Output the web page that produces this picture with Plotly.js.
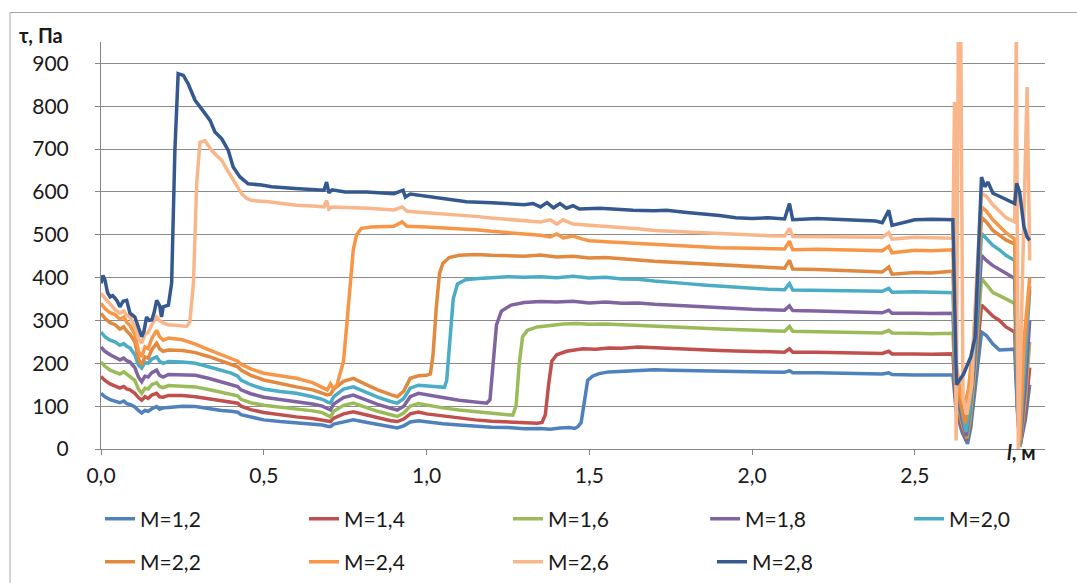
<!DOCTYPE html>
<html>
<head>
<meta charset="utf-8">
<script src="https://cdn.plot.ly/plotly-3.0.1.min.js"></script>
<style>
html,body{margin:0;padding:0;background:#fff;}
#chart{width:1077px;height:583px;}
</style>
</head>
<body>
<div id="chart"></div>
<script>
// ---- data ----
const seriesNames = ["M=1,2","M=1,4","M=1,6","M=1,8","M=2,0","M=2,2","M=2,4","M=2,6","M=2,8"];
const xTickVals = [0, 0.5, 1.0, 1.5, 2.0, 2.5];
const xTickText = ["0,0","0,5","1,0","1,5","2,0","2,5"];
const yTickVals = [0,100,200,300,400,500,600,700,800,900];

const xM12 = [0.000,0.012,0.028,0.043,0.058,0.070,0.079,0.089,0.104,0.115,0.125,0.135,0.145,0.156,0.171,0.180,0.191,0.207,0.25,0.29,0.33,0.37,0.40,0.42,0.43,0.46,0.50,0.55,0.60,0.65,0.68,0.695,0.705,0.715,0.745,0.775,0.81,0.85,0.89,0.91,0.93,0.95,0.975,1.0,1.05,1.10,1.15,1.20,1.25,1.30,1.35,1.38,1.41,1.44,1.455,1.465,1.475,1.485,1.495,1.51,1.53,1.56,1.60,1.65,1.70,1.75,1.80,1.85,1.90,1.95,2.00,2.05,2.10,2.115,2.125,2.20,2.30,2.40,2.42,2.43,2.50,2.55,2.60,2.617,2.627,2.645,2.662,2.672,2.688,2.705,2.72,2.74,2.76,2.78,2.807,2.815,2.823,2.84,2.853];
const yM12 = [130,122,115,112,108,112,106,104,98,90,84,90,88,94,99,93,96,97,100,99,94,90,88,86,80,74,68,64,61,58,56,53,52,58,64,68,63,57,51,49,54,63,66,63,59,56,53,51,50,47,48,46,49,50,48,52,62,110,160,170,176,180,182,183,185,184,183,183,181,181,180,179,179,183,178,178,176,175,178,174,173,172,173,173,90,40,12,50,160,273,265,245,231,232,233,90,5,70,150];

const xM14 = [0.000,0.012,0.028,0.043,0.058,0.070,0.079,0.089,0.104,0.115,0.125,0.135,0.145,0.156,0.171,0.180,0.191,0.207,0.25,0.29,0.33,0.37,0.40,0.42,0.43,0.46,0.50,0.55,0.60,0.65,0.68,0.695,0.705,0.715,0.745,0.775,0.81,0.85,0.89,0.91,0.93,0.95,0.975,1.0,1.05,1.10,1.15,1.20,1.25,1.30,1.34,1.355,1.365,1.375,1.385,1.40,1.43,1.48,1.52,1.56,1.60,1.65,1.70,1.75,1.80,1.85,1.90,1.95,2.00,2.05,2.10,2.115,2.125,2.20,2.30,2.40,2.42,2.43,2.50,2.55,2.617,2.627,2.645,2.66,2.67,2.685,2.705,2.72,2.74,2.76,2.78,2.807,2.815,2.823,2.84,2.853];
const yM14 = [169,160,152,147,142,146,140,138,130,120,114,122,118,126,130,122,121,125,125,122,117,112,110,107,100,92,85,79,75,71,68,65,64,72,82,87,80,72,66,64,70,82,86,82,77,72,68,65,63,61,60,62,80,150,205,220,228,234,233,236,235,238,236,234,233,232,230,229,228,227,226,234,226,226,224,223,228,222,222,221,222,100,50,20,60,170,336,325,310,300,285,273,100,5,90,190];

const xM16 = [0.000,0.012,0.028,0.043,0.058,0.070,0.079,0.089,0.104,0.115,0.125,0.135,0.145,0.156,0.171,0.180,0.191,0.207,0.25,0.29,0.33,0.37,0.40,0.42,0.43,0.46,0.50,0.55,0.60,0.65,0.68,0.695,0.705,0.715,0.745,0.775,0.81,0.85,0.89,0.91,0.93,0.95,0.975,1.0,1.05,1.10,1.15,1.20,1.24,1.265,1.275,1.285,1.295,1.31,1.34,1.38,1.42,1.46,1.50,1.55,1.60,1.65,1.70,1.75,1.80,1.85,1.90,1.95,2.00,2.05,2.10,2.115,2.125,2.20,2.30,2.40,2.42,2.43,2.50,2.55,2.617,2.627,2.645,2.66,2.67,2.685,2.705,2.72,2.74,2.76,2.78,2.807,2.815,2.823,2.84,2.853];
const yM16 = [203,193,184,180,175,180,174,170,160,140,130,142,140,150,155,146,143,148,147,145,139,132,128,124,116,108,102,98,94,89,85,80,75,88,102,107,98,88,80,76,84,100,106,102,96,91,87,84,80,79,100,200,262,277,285,289,292,293,291,292,290,289,288,286,284,282,280,278,277,276,275,286,275,274,273,271,277,271,270,269,270,120,60,25,70,190,398,385,365,358,350,340,120,5,120,250];

const xM18 = [0.000,0.012,0.028,0.043,0.058,0.070,0.079,0.089,0.104,0.115,0.125,0.135,0.145,0.156,0.171,0.180,0.191,0.207,0.25,0.29,0.33,0.37,0.40,0.42,0.43,0.46,0.50,0.55,0.60,0.65,0.68,0.695,0.705,0.715,0.745,0.775,0.81,0.85,0.89,0.91,0.93,0.95,0.975,1.0,1.05,1.10,1.15,1.185,1.195,1.205,1.215,1.23,1.26,1.30,1.35,1.40,1.45,1.50,1.55,1.60,1.65,1.70,1.75,1.80,1.85,1.90,1.95,2.00,2.05,2.10,2.115,2.125,2.20,2.30,2.40,2.42,2.43,2.50,2.55,2.617,2.627,2.645,2.658,2.668,2.683,2.705,2.72,2.74,2.76,2.78,2.807,2.815,2.823,2.84,2.853];
const yM18 = [238,228,220,215,208,212,206,203,190,168,157,170,168,178,184,172,168,174,174,172,165,157,152,146,138,129,121,116,111,105,100,95,91,105,120,126,116,104,95,91,100,122,130,126,120,114,110,107,115,200,290,322,336,342,344,343,345,341,343,340,341,338,336,333,332,330,328,326,325,324,334,323,322,320,318,324,317,317,316,317,140,70,30,80,200,452,440,428,420,410,398,130,10,150,300];

const xM20 = [0.000,0.012,0.028,0.043,0.058,0.070,0.079,0.089,0.104,0.115,0.125,0.135,0.145,0.156,0.171,0.180,0.191,0.207,0.25,0.29,0.33,0.37,0.40,0.42,0.43,0.46,0.50,0.55,0.60,0.65,0.68,0.695,0.705,0.715,0.745,0.775,0.81,0.85,0.89,0.91,0.93,0.95,0.975,1.0,1.03,1.055,1.062,1.072,1.082,1.095,1.12,1.16,1.20,1.25,1.30,1.35,1.40,1.45,1.50,1.55,1.60,1.65,1.70,1.75,1.80,1.85,1.90,1.95,2.00,2.05,2.10,2.115,2.125,2.20,2.30,2.40,2.42,2.43,2.50,2.55,2.617,2.627,2.645,2.657,2.668,2.682,2.705,2.72,2.74,2.76,2.78,2.807,2.815,2.822,2.838,2.853];
const yM20 = [273,262,254,250,242,246,240,236,220,196,189,202,200,210,215,205,200,204,203,200,192,183,177,170,161,150,140,134,130,122,116,110,107,122,140,145,134,121,111,107,118,142,149,147,145,144,160,260,350,385,395,398,400,402,401,402,400,403,399,401,397,396,392,390,386,383,380,377,375,373,372,386,371,370,369,368,375,366,367,366,365,160,90,40,90,220,503,490,475,465,452,440,150,10,200,370];

const xM22 = [0.000,0.012,0.028,0.043,0.058,0.070,0.079,0.089,0.104,0.115,0.125,0.135,0.145,0.156,0.171,0.180,0.191,0.207,0.25,0.29,0.33,0.37,0.40,0.42,0.43,0.46,0.50,0.55,0.60,0.65,0.68,0.695,0.705,0.715,0.745,0.775,0.81,0.85,0.89,0.91,0.93,0.95,0.975,1.0,1.012,1.02,1.03,1.04,1.05,1.07,1.10,1.15,1.20,1.25,1.30,1.35,1.40,1.45,1.50,1.55,1.60,1.65,1.70,1.75,1.80,1.85,1.90,1.95,2.00,2.05,2.10,2.115,2.125,2.20,2.30,2.40,2.42,2.43,2.50,2.55,2.617,2.627,2.64,2.655,2.667,2.68,2.705,2.72,2.74,2.76,2.78,2.807,2.815,2.822,2.835,2.853];
const yM22 = [317,305,295,290,280,285,275,268,250,210,196,215,212,232,247,234,228,231,230,225,216,205,198,192,184,172,161,152,145,138,130,126,128,140,158,165,152,138,127,122,135,165,171,172,175,220,330,410,433,447,452,454,452,452,450,453,448,450,446,447,443,441,438,436,433,430,428,426,425,423,422,440,420,419,416,413,425,408,412,411,415,180,110,60,110,230,541,530,510,500,488,478,180,15,230,380];

const xM24 = [0.000,0.012,0.028,0.043,0.058,0.070,0.079,0.089,0.104,0.115,0.125,0.135,0.145,0.156,0.171,0.180,0.191,0.207,0.25,0.29,0.33,0.37,0.40,0.42,0.43,0.46,0.50,0.55,0.60,0.65,0.68,0.695,0.705,0.715,0.725,0.735,0.745,0.755,0.765,0.775,0.785,0.80,0.83,0.87,0.90,0.925,0.94,1.00,1.05,1.10,1.15,1.20,1.25,1.30,1.35,1.38,1.40,1.42,1.45,1.48,1.50,1.55,1.60,1.65,1.70,1.75,1.80,1.85,1.90,1.95,2.00,2.05,2.10,2.115,2.125,2.20,2.30,2.40,2.42,2.43,2.50,2.55,2.617,2.627,2.64,2.652,2.665,2.68,2.705,2.72,2.74,2.76,2.78,2.807,2.815,2.822,2.835,2.853];
const yM24 = [340,328,318,314,303,308,296,288,268,228,215,238,234,258,277,262,254,259,255,245,232,220,212,205,198,187,177,170,165,155,143,138,152,140,150,175,205,290,390,465,500,515,518,520,520,530,520,518,516,515,512,508,505,501,499,495,502,493,497,490,486,484,482,480,477,475,472,471,470,469,469,467,467,485,465,466,465,463,473,458,464,463,465,200,130,100,140,250,565,555,535,520,505,490,200,20,250,400];

const xM26 = [0.000,0.012,0.028,0.043,0.058,0.070,0.079,0.089,0.104,0.115,0.125,0.135,0.145,0.156,0.171,0.180,0.191,0.207,0.23,0.25,0.263,0.273,0.284,0.294,0.304,0.319,0.340,0.355,0.371,0.385,0.401,0.415,0.432,0.447,0.463,0.514,0.55,0.60,0.65,0.685,0.693,0.70,0.71,0.75,0.82,0.90,0.925,0.94,1.00,1.05,1.10,1.15,1.20,1.25,1.30,1.35,1.38,1.40,1.42,1.45,1.50,1.55,1.60,1.65,1.70,1.75,1.80,1.85,1.90,1.95,2.00,2.05,2.10,2.115,2.125,2.20,2.30,2.40,2.42,2.43,2.50,2.55,2.617,2.622,2.627,2.634,2.641,2.648,2.66,2.675,2.69,2.705,2.72,2.74,2.76,2.78,2.807,2.812,2.818,2.83,2.845,2.853];
const yM26 = [363,352,338,325,317,322,312,308,285,258,247,268,272,290,308,300,294,290,289,288,286,297,387,620,716,720,697,685,674,655,635,615,596,585,580,577,573,569,567,565,580,560,565,564,562,558,565,555,552,548,546,543,539,536,533,530,535,525,535,525,522,520,516,514,510,508,507,505,502,500,499,498,497,515,496,496,495,494,505,490,494,493,492,810,20,1000,1000,120,80,150,400,597,590,570,555,540,530,1000,0,350,845,440];

const xM28 = [0.000,0.006,0.012,0.020,0.028,0.036,0.043,0.050,0.058,0.068,0.079,0.089,0.104,0.115,0.125,0.132,0.140,0.148,0.156,0.163,0.171,0.180,0.186,0.191,0.207,0.217,0.227,0.237,0.253,0.268,0.289,0.309,0.335,0.350,0.371,0.391,0.406,0.427,0.452,0.493,0.524,0.596,0.65,0.685,0.693,0.70,0.71,0.75,0.816,0.90,0.928,0.935,0.95,1.00,1.05,1.123,1.20,1.25,1.30,1.327,1.35,1.37,1.39,1.41,1.43,1.45,1.47,1.533,1.60,1.634,1.70,1.737,1.80,1.84,1.90,1.95,2.00,2.05,2.10,2.115,2.125,2.20,2.30,2.38,2.40,2.42,2.43,2.50,2.55,2.60,2.617,2.628,2.65,2.672,2.685,2.705,2.715,2.725,2.74,2.76,2.785,2.807,2.813,2.822,2.835,2.845,2.853];
const yM28 = [387,405,395,365,355,358,352,345,332,345,347,317,308,285,262,275,308,300,301,318,347,335,308,332,336,387,697,876,872,852,814,794,767,740,724,697,658,635,619,616,612,608,606,604,623,598,605,600,600,596,604,588,595,590,585,577,575,573,570,573,565,575,563,573,562,568,560,562,558,557,556,557,552,550,545,540,538,540,537,573,535,538,534,532,528,557,522,535,536,535,535,150,175,215,260,635,612,623,597,590,580,573,620,600,520,495,487];

const xData = [xM12,xM14,xM16,xM18,xM20,xM22,xM24,xM26,xM28];
const yData = [yM12,yM14,yM16,yM18,yM20,yM22,yM24,yM26,yM28];
const colors = ["#4F81BD","#C0504D","#9BBB59","#8064A2","#4BACC6","#E0893F","#F79646","#F9B68A","#35598F"];
const legendOf = ["legend","legend","legend","legend3","legend3","legend2","legend2","legend2","legend2"];

const FONT = "Lato, 'Open Sans', sans-serif";
const traces = seriesNames.map((n,i)=>({
  type:"scatter", mode:"lines", name:n,
  x:xData[i], y:yData[i],
  line:{color:colors[i], width:3.5},
  legend: legendOf[i],
  hoverinfo:"skip"
}));

const colStep = 201.7;
const legX0 = 100;
const legendCommon = {
  orientation:"h", xref:"container", yref:"container",
  xanchor:"left", yanchor:"middle",
  font:{family:FONT, size:21, color:"#1a1a1a"},
  bgcolor:"rgba(0,0,0,0)", entrywidth:159, entrywidthmode:"pixels",
  traceorder:"normal", itemclick:false
};

const layout = {
  width:1077, height:583,
  margin:{l:101, r:32, t:42, b:134},
  paper_bgcolor:"#fff", plot_bgcolor:"#fff",
  font:{family:FONT, size:21, color:"#1a1a1a"},
  showlegend:true,
  legend:Object.assign({}, legendCommon, {x:legX0/1077, y:1-519/583}),
  legend3:Object.assign({}, legendCommon, {x:(legX0+3*colStep)/1077, y:1-519/583}),
  legend2:Object.assign({}, legendCommon, {x:legX0/1077, y:1-562/583}),
  xaxis:{
    range:[0,2.9], tickvals:xTickVals, ticktext:xTickText,
    showgrid:false, zeroline:false, showline:true, linecolor:"#868686", linewidth:1,
    ticks:"outside", ticklen:5, tickcolor:"#868686",
    tickfont:{family:FONT, size:21, color:"#1a1a1a"}, ticklabelstandoff:3
  },
  yaxis:{
    range:[0,950], tickvals:yTickVals,
    showgrid:true, gridcolor:"#8a8a8a", gridwidth:1, zeroline:false,
    showline:true, linecolor:"#868686", linewidth:1,
    ticks:"outside", ticklen:5, tickcolor:"#868686",
    tickfont:{family:FONT, size:21, color:"#1a1a1a"}, ticklabelstandoff:22
  },
  annotations:[
    {xref:"paper", yref:"paper", x:(17-101)/944, y:(449-35)/407, xanchor:"left", yanchor:"middle",
     text:"<b>τ, Па</b>", showarrow:false, font:{family:FONT, size:20, color:"#1a1a1a"}},
    {xref:"paper", yref:"paper", x:(1005-101)/944, y:(449-452)/407, xanchor:"left", yanchor:"middle",
     text:"<b><i>l</i>, м</b>", showarrow:false, font:{family:FONT, size:20, color:"#1a1a1a"}}
  ],
  shapes:[
    {type:"rect", xref:"paper", yref:"paper", x0:(10-101)/944, x1:1.05, y0:-0.45, y1:(449-12.5)/407,
     line:{color:"#a6a6a6", width:1}, fillcolor:"rgba(0,0,0,0)", layer:"below"}
  ]
};

Plotly.newPlot("chart", traces, layout, {staticPlot:true, displayModeBar:false});
</script>
</body>
</html>
